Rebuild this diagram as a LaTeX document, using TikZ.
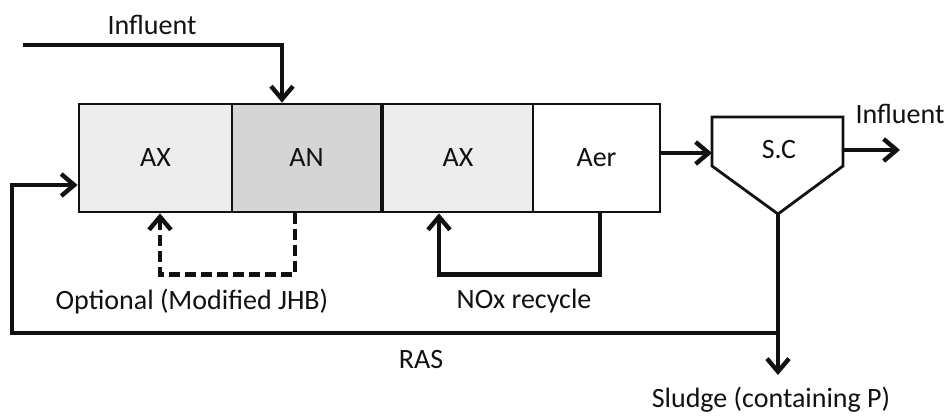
\documentclass[tikz,border=0pt]{standalone}
\usepackage{fontspec}
\setmainfont{Carlito}
\usetikzlibrary{arrows.meta, calc}
\definecolor{axfill}{HTML}{EDEDED}
\definecolor{anfill}{HTML}{D5D5D5}
\definecolor{ink}{HTML}{111111}

\begin{document}
\begin{tikzpicture}[
  x=1pt, y=-1pt,
  >={Straight Barb[length=13pt, width=22pt]},
  font=\fontsize{28}{34}\selectfont,
  tank/.style={draw=ink, line width=2.8pt, minimum height=108pt,
    inner sep=0pt, text=ink},
  flow/.style={->, draw=ink, line width=4.4pt},
  optflow/.style={flow, dash pattern=on 11pt off 5pt},
  label/.style={text=ink, inner sep=0pt}
]

% Canvas
\useasboundingbox (0,0) rectangle (951,416);

% ── Reactor train ──
\node[tank, fill=axfill, minimum width=153pt] (ax1) at (155.5,158) {AX};
\node[tank, fill=anfill, minimum width=149pt] (an)  at (306.5,158) {AN};
\node[tank, fill=axfill, minimum width=150pt] (ax2) at (458,158)   {AX};
\node[tank, fill=white,  minimum width=127pt] (aer) at (596.5,158) {Aer};

% ── Secondary clarifier ──
\draw[draw=ink, line width=2.8pt, fill=white]
  (712,117) -- (843,117) -- (843,166) -- (778,214) -- (712,166) -- cycle;
\node[label] (sc) at (779,150) {S.C};

% ── Key coordinates ──
\coordinate (infl)    at (23,45);
\coordinate (scin)    at (712,153);
\coordinate (scout)   at (843,150);
\coordinate (effl)    at (900,150);
\coordinate (scbot)   at (778,214);
\coordinate (rasjoin) at (778,333);
\coordinate (sludge)  at (778,375);

% ── Influent into AN ──
\draw[flow] (infl) -| ([xshift=-24.5pt]an.north);
\node[label] (infllabel) at (152,25) {Influent};

% ── Aer to clarifier, clarifier out ──
\draw[flow] (aer.east |- scin) -- (scin);
\draw[flow] (scout) -- (effl);
\node[label] (efflabel) at (900,114) {Influent};

% ── Sludge wasting ──
\draw[flow] (scbot) -- (sludge);
\node[label] (sludgelabel) at (771,400) {Sludge (containing P)};

% ── RAS back to first AX ──
\draw[flow] (rasjoin) -- (12,333) |- ([yshift=-27pt]ax1.west);
\node[label] (raslabel) at (421,360) {RAS};

% ── Optional recycle AN -> AX (modified JHB) ──
\draw[optflow] ([xshift=-11.5pt]an.south) -- ++(0,61) -| ([xshift=4.5pt]ax1.south);
\node[label] (optlabel) at (192,302) {Optional (Modified JHB)};

% ── NOx recycle Aer -> AX ──
\draw[flow] ([xshift=3.5pt]aer.south) -- ++(0,61) -| ([xshift=-19pt]ax2.south);
\node[label] (noxlabel) at (524,301) {NOx recycle};

\end{tikzpicture}
\end{document}
